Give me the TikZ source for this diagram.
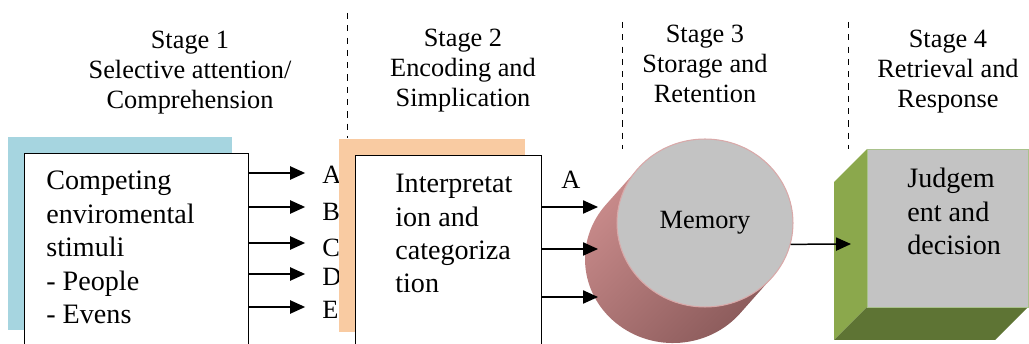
\documentclass[tikz,border=0pt]{standalone}
\usepackage{fontspec}
\setmainfont{Liberation Serif}
\usetikzlibrary{arrows.meta,shapes.geometric}
\definecolor{stimblue}{HTML}{A6D5E0}
\definecolor{encorange}{HTML}{F9CBA2}
\definecolor{memgray}{HTML}{C3C3C3}
\definecolor{memrim}{HTML}{D9A9A9}
\definecolor{mempink}{HTML}{C98B8B}
\definecolor{memmid}{HTML}{B87A7A}
\definecolor{memdark}{HTML}{8A5A5A}
\definecolor{judgelight}{HTML}{8BA84C}
\definecolor{judgedark}{HTML}{5E7434}
\definecolor{judgerim}{HTML}{A9C28C}
\tikzset{
  stagetext/.style={font=\fontsize{15}{17}\selectfont, align=center, inner sep=0pt, anchor=north},
  boxtext/.style={font=\fontsize{16}{19}\selectfont, align=left, inner sep=0pt, anchor=north west},
  lettertext/.style={font=\fontsize{15}{17}\selectfont, inner sep=0pt, anchor=west},
  stagerule/.style={draw=black, line width=.55pt, dash pattern=on 3.5pt off 3.5pt},
  whitebox/.style={draw=black, fill=white, line width=.8pt, inner sep=0pt, anchor=north west},
  flow/.style={-{Triangle[length=8.5pt,width=7.5pt]}, draw=black, line width=.85pt}
}

\begin{document}
\begin{tikzpicture}[x=0.02cm,y=-0.02cm]
  \useasboundingbox (0,0) rectangle (1029,344);

  \draw[stagerule] (347,13) -- (347,138);
  \draw[stagerule] (622,22) -- (622,149);
  \draw[stagerule] (848,22) -- (848,149);

  \node[stagetext] (stage1) at (190,31) {Stage 1\\Selective attention/\\Comprehension};
  \node[stagetext] (stage2) at (463,29) {Stage 2\\Encoding and\\Simplication};
  \node[stagetext] (stage3) at (705,25) {Stage 3\\Storage and\\Retention};
  \node[stagetext] (stage4) at (948,30) {Stage 4\\Retrieval and\\Response};

  \fill[stimblue] (8,137) rectangle (232,330);
  \node[whitebox, minimum width=4.48cm, minimum height=3.94cm] (stimbox) at (24,153) {};
  \node[boxtext] (stimtext) at (46,171) {Competing\\enviromental\\stimuli\\- People\\- Evens};
  \foreach \lab/\ly/\ay in {A/175/173,B/212/207,C/248/243,D/277/274,E/310/307} {
    \node[lettertext] (lbl\lab) at (322,\ly) {\lab};
    \draw[flow, shorten >=9.6pt] (stimbox.east |- 0,\ay) -- (lbl\lab.west |- 0,\ay);
  }

  \fill[encorange] (339,139) rectangle (525,332);
  \node[whitebox, minimum width=3.72cm, minimum height=3.9cm] (interbox) at (355,155) {};
  \node[boxtext] (intertext) at (395,174) {Interpretat\\ion and\\categoriza\\tion};
  \node[lettertext] (lblA2) at (561,180) {A};

  \shade[top color=mempink, middle color=memmid, bottom color=memdark, shading angle=45]
    (637.9,168.7) -- (605.9,204.7) arc[start angle=220.3, end angle=40.3, x radius=88, y radius=84]
    -- (772.1,277.3) -- cycle;
  \node[ellipse, draw=memrim, fill=memgray, line width=.6pt, inner sep=0pt,
    minimum width=3.52cm, minimum height=3.36cm, font=\fontsize{15}{17}\selectfont] (memory) at (705,223) {Memory};
  \coordinate (memin1) at (598,207);
  \coordinate (memin2) at (598,249);
  \coordinate (memin3) at (598,297);
  \foreach \i in {1,2,3}
    \draw[flow] (interbox.east |- memin\i) -- (memin\i);

  \fill[judgelight] (867,149) -- (834,182) -- (834,340) -- (867,307) -- cycle;
  \fill[judgedark] (867,307) -- (1028,307) -- (995,340) -- (834,340) -- cycle;
  \node[draw=judgerim, fill=memgray, line width=.6pt, inner sep=0pt, anchor=north west,
    minimum width=3.22cm, minimum height=3.16cm] (judge) at (867,149) {};
  \node[boxtext] (judgetext) at (907,168) {Judgem\\ent and\\decision};
  \coordinate (judgein) at (851,244);
  \draw[flow] (memory.-14) -- (judgein);
\end{tikzpicture}
\end{document}
